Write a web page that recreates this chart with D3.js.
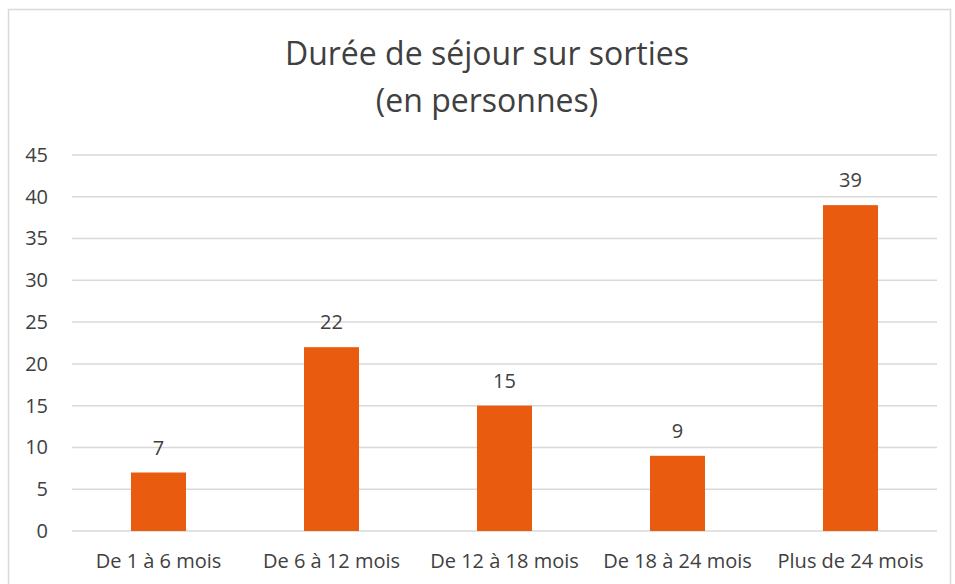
<!DOCTYPE html>
<html>
<head>
<meta charset="utf-8">
<script src="https://cdn.jsdelivr.net/npm/d3@7"></script>
<style>
  body { margin: 0; background: #fff; }
  svg { display: block; }
  svg text { font-family: 'Open Sans', sans-serif; }
</style>
</head>
<body>
<div id="chart"></div>
<script>
const categories = ['De 1 à 6 mois', 'De 6 à 12 mois', 'De 12 à 18 mois', 'De 18 à 24 mois', 'Plus de 24 mois'];
const values = [7, 22, 15, 9, 39];
const yTicks = [0, 5, 10, 15, 20, 25, 30, 35, 40, 45];
const titleLines = ['Durée de séjour sur sorties', '(en personnes)'];

const width = 955;
const height = 584;
const margin = { top: 155, right: 18, bottom: 53, left: 72 };

const svg = d3.select('#chart')
    .append('svg')
    .attr('width', width)
    .attr('height', height);

// chart frame
svg.append('rect')
    .attr('x', 8.5)
    .attr('y', 9.5)
    .attr('width', 942)
    .attr('height', 590)
    .attr('fill', 'none')
    .attr('stroke', '#d9d9d9')
    .attr('stroke-width', 1.5);

const x = d3.scaleBand()
    .domain(categories)
    .range([margin.left, width - margin.right])
    .paddingInner(0.682)
    .paddingOuter(0.341);

const y = d3.scaleLinear()
    .domain([0, 45])
    .range([height - margin.bottom, margin.top]);

// gridlines
svg.append('g')
    .selectAll('line')
    .data(yTicks)
    .join('line')
    .attr('x1', margin.left)
    .attr('x2', width - margin.right)
    .attr('y1', d => y(d))
    .attr('y2', d => y(d))
    .attr('stroke', '#d9d9d9')
    .attr('stroke-width', 1.5);

// y axis labels
const yAxis = svg.append('g')
    .attr('transform', `translate(${margin.left - 24},0)`)
    .call(d3.axisLeft(y).tickValues(yTicks).tickSize(0).tickPadding(0));
yAxis.select('.domain').remove();
yAxis.selectAll('text')
    .attr('fill', '#404040')
    .style('font-family', "'Open Sans', sans-serif")
    .style('font-size', '20px');

// bars
svg.append('g')
    .attr('fill', '#e95c10')
    .selectAll('rect')
    .data(values)
    .join('rect')
    .attr('x', (d, i) => x(categories[i]))
    .attr('y', d => y(d))
    .attr('width', x.bandwidth())
    .attr('height', d => y(0) - y(d));

// value labels
svg.append('g')
    .selectAll('text')
    .data(values)
    .join('text')
    .attr('x', (d, i) => x(categories[i]) + x.bandwidth() / 2)
    .attr('y', d => y(d) - 18)
    .attr('text-anchor', 'middle')
    .attr('fill', '#404040')
    .style('font-size', '20px')
    .text(d => d);

// x axis labels
const xAxis = svg.append('g')
    .attr('transform', `translate(0,${y(0)})`)
    .call(d3.axisBottom(x).tickSize(0).tickPadding(23));
xAxis.select('.domain').remove();
xAxis.selectAll('text')
    .attr('fill', '#404040')
    .style('font-family', "'Open Sans', sans-serif")
    .style('font-size', '20px');

// title
svg.append('g')
    .selectAll('text')
    .data(titleLines)
    .join('text')
    .attr('x', 487)
    .attr('y', (d, i) => 65 + i * 47)
    .attr('text-anchor', 'middle')
    .attr('fill', '#404040')
    .style('font-size', '32px')
    .text(d => d);
</script>
</body>
</html>
